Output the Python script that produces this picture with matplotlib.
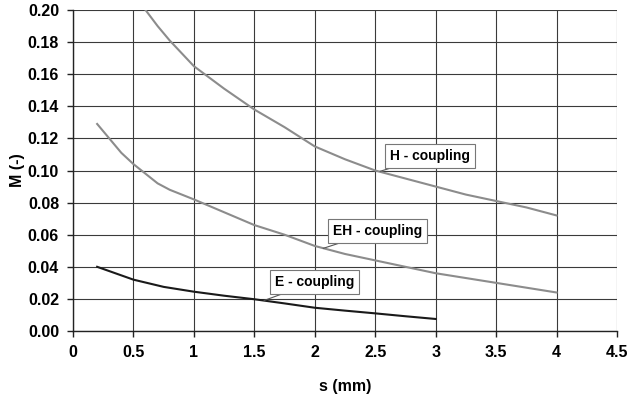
import matplotlib
matplotlib.use("Agg")
import matplotlib.pyplot as plt

plt.rcParams['font.family'] = ['Liberation Sans', 'DejaVu Sans']
plt.rcParams['font.weight'] = 'bold'

s_h = [0.6, 0.7, 0.8, 0.9, 1.0, 1.25, 1.5, 1.75, 2.0, 2.25, 2.5, 2.75, 3.0, 3.25, 3.5, 3.75, 4.0]
m_h = [0.200, 0.190, 0.181, 0.173, 0.165, 0.151, 0.138, 0.127, 0.115, 0.107, 0.100, 0.095, 0.090, 0.085, 0.081, 0.077, 0.072]

s_eh = [0.2, 0.3, 0.4, 0.5, 0.6, 0.7, 0.8, 0.9, 1.0, 1.25, 1.5, 1.75, 2.0, 2.25, 2.5, 2.75, 3.0, 3.25, 3.5, 3.75, 4.0]
m_eh = [0.129, 0.120, 0.111, 0.104, 0.098, 0.092, 0.088, 0.085, 0.082, 0.074, 0.066, 0.060, 0.053, 0.048, 0.044, 0.040, 0.036, 0.033, 0.030, 0.027, 0.024]

s_e = [0.2, 0.35, 0.5, 0.75, 1.0, 1.25, 1.5, 1.75, 2.0, 2.25, 2.5, 2.75, 3.0]
m_e = [0.040, 0.036, 0.032, 0.0275, 0.0245, 0.022, 0.0198, 0.0172, 0.0145, 0.0127, 0.011, 0.0092, 0.0075]

xticks = [0, 0.5, 1, 1.5, 2, 2.5, 3, 3.5, 4, 4.5]
xticklabels = ['0', '0.5', '1', '1.5', '2', '2.5', '3', '3.5', '4', '4.5']
yticks = [0.00, 0.02, 0.04, 0.06, 0.08, 0.10, 0.12, 0.14, 0.16, 0.18, 0.20]

fig = plt.figure(figsize=(6.28, 3.98), dpi=100)
ax = fig.add_axes([0.1162, 0.1683, 0.8663, 0.8066])

ax.plot(s_h, m_h, color='#8c8c8c', lw=1.5)
ax.plot(s_eh, m_eh, color='#8c8c8c', lw=1.5)
ax.plot(s_e, m_e, color='#1a1a1a', lw=1.5)

ax.set_xlim(0, 4.5)
ax.set_ylim(0, 0.2)
ax.set_xticks(xticks)
ax.set_xticklabels(xticklabels)
ax.set_yticks(yticks)
ax.set_yticklabels([f'{v:.2f}' for v in yticks])
ax.grid(True, color='#3a3a3a', lw=0.8)
ax.set_axisbelow(True)
for sp in ['top', 'right']:
    ax.spines[sp].set_visible(False)
for sp in ['left', 'bottom']:
    ax.spines[sp].set_color('#222222')
    ax.spines[sp].set_linewidth(1.0)
ax.tick_params(direction='out', length=4, width=1, colors='#222222',
               labelsize=11.5, pad=6)
for lab in ax.get_xticklabels() + ax.get_yticklabels():
    lab.set_fontweight('bold')
    lab.set_color('black')

ax.set_xlabel('s (mm)', fontsize=11.5, fontweight='bold', labelpad=14)
ax.set_ylabel('M (-)', fontsize=11.5, fontweight='bold', labelpad=2)

bbox = dict(boxstyle='square,pad=0.35', fc='white', ec='#777777', lw=0.8)
arrow = dict(arrowstyle='-', color='#555555', lw=0.8, shrinkA=0, shrinkB=0)
ax.annotate('H - coupling', xy=(2.54, 0.0995), xytext=(2.62, 0.109),
            fontsize=10, fontweight='bold', bbox=bbox, arrowprops=arrow,
            ha='left', va='center')
ax.annotate('EH - coupling', xy=(2.07, 0.0515), xytext=(2.15, 0.0625),
            fontsize=10, fontweight='bold', bbox=bbox, arrowprops=arrow,
            ha='left', va='center')
ax.annotate('E - coupling', xy=(1.58, 0.019), xytext=(1.67, 0.0305),
            fontsize=10, fontweight='bold', bbox=bbox, arrowprops=arrow,
            ha='left', va='center')

fig.savefig('out.png', dpi=100)
